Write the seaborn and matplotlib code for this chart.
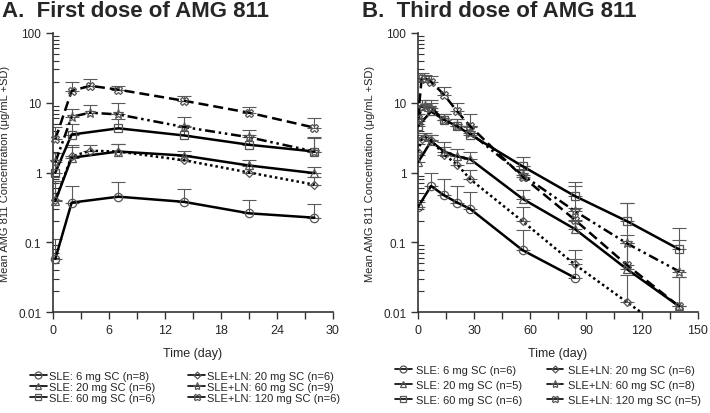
"""AMG 811 mean concentration-time profiles, first and third dose."""

import matplotlib
matplotlib.use("Agg")
import matplotlib.pyplot as plt
from matplotlib.lines import Line2D
from matplotlib.ticker import FixedLocator, LogLocator, NullFormatter
import numpy as np
import pandas as pd
import seaborn as sns

nan = np.nan

# ---- panel A: first dose ----
a_t_sle = [0.25, 2, 7, 14, 21, 28]
a_t_ln = [0.25, 2, 4, 7, 14, 21, 28]
a_sle6 = [0.058, 0.37, 0.45, 0.38, 0.26, 0.225]
a_sle6_sd = [0.055, 0.26, 0.27, 0.20, 0.14, 0.125]
a_sle20 = [0.39, 1.63, 2.0, 1.75, 1.26, 0.98]
a_sle20_sd = [0.36, 0.7, 0.6, 0.3, 0.25, 0.2]
a_sle60 = [1.0, 3.5, 4.3, 3.4, 2.5, 2.0]
a_sle60_sd = [0.5, 1.5, 1.5, 1.2, 0.9, 1.2]
a_ln20 = [0.40, 1.7, 2.05, 2.0, 1.5, 1.0, 0.67]
a_ln20_sd = [0.35, 0.8, 0.45, 0.6, 0.3, 0.25, 0.2]
a_ln60 = [1.4, 6.3, 7.2, 6.8, 4.5, 3.2, 2.0]
a_ln60_sd = [0.5, 1.9, 2.2, 3.2, 1.7, 0.9, 1.1]
a_ln120 = [3.0, 14.8, 17.5, 15.4, 10.7, 7.2, 4.4]
a_ln120_sd = [1.5, 5.2, 4.5, 2.1, 1.9, 1.6, 1.7]

# ---- panel B: third dose ----
b_t_sle = [0, 7, 14, 21, 28, 56, 84, 112, 140]
b_t_ln = [0, 2, 4, 7, 14, 21, 28, 56, 84, 112, 140]
b_sle6 = [0.32, 0.64, 0.47, 0.37, 0.30, 0.077, 0.031, nan, nan]
b_sle6_sd = [0.06, 0.36, 0.33, 0.26, 0.22, 0.075, 0.026, nan, nan]
b_sle20 = [1.4, 2.8, 2.0, 1.7, 1.55, 0.42, 0.155, 0.041, 0.012]
b_sle20_sd = [0.4, 0.6, 0.7, 0.5, 0.45, 0.15, 0.05, 0.32, 0.02]
b_sle60 = [4.6, 7.5, 5.7, 4.6, 3.5, 1.23, 0.46, 0.20, 0.079]
b_sle60_sd = [1.5, 2.5, 1.2, 1.3, 1.0, 0.45, 0.26, 0.16, 0.08]
b_ln20 = [2.0, 3.0, 3.2, 2.9, 1.8, 1.3, 0.8, 0.2, 0.048, 0.0138, 0.004]
b_ln20_sd = [0.6, 0.5, 0.5, 0.6, 0.5, 0.4, 0.3, 0.12, 0.03, 0.02, 0.0]
b_ln60 = [5.5, 8.8, 9.0, 8.5, 5.6, 4.6, 3.7, 0.92, 0.28, 0.096, 0.038]
b_ln60_sd = [1.5, 2.0, 2.0, 2.5, 1.2, 1.3, 1.0, 0.3, 0.36, 0.03, 0.07]
b_ln120 = [6.0, 23, 22, 20, 13, 7.5, 4.6, 0.87, 0.21, 0.047, 0.012]
b_ln120_sd = [2.0, 3.5, 3.0, 4.0, 4.0, 2.5, 2.2, 0.25, 0.1, 0.05, 0.02]

groups_a = ["SLE: 6 mg SC (n=8)", "SLE: 20 mg SC (n=6)", "SLE: 60 mg SC (n=6)",
            "SLE+LN: 20 mg SC (n=6)", "SLE+LN: 60 mg SC (n=9)", "SLE+LN: 120 mg SC (n=6)"]
groups_b = ["SLE: 6 mg SC (n=6)", "SLE: 20 mg SC (n=5)", "SLE: 60 mg SC (n=6)",
            "SLE+LN: 20 mg SC (n=6)", "SLE+LN: 60 mg SC (n=8)", "SLE+LN: 120 mg SC (n=5)"]

series_a = [(a_t_sle, a_sle6, a_sle6_sd), (a_t_sle, a_sle20, a_sle20_sd),
            (a_t_sle, a_sle60, a_sle60_sd), (a_t_ln, a_ln20, a_ln20_sd),
            (a_t_ln, a_ln60, a_ln60_sd), (a_t_ln, a_ln120, a_ln120_sd)]
series_b = [(b_t_sle, b_sle6, b_sle6_sd), (b_t_sle, b_sle20, b_sle20_sd),
            (b_t_sle, b_sle60, b_sle60_sd), (b_t_ln, b_ln20, b_ln20_sd),
            (b_t_ln, b_ln60, b_ln60_sd), (b_t_ln, b_ln120, b_ln120_sd)]

MARKERS = ["o", "^", "s", "D", "*", "X"]
MSIZES = [6, 6, 6, 4.5, 7, 6]
DASHES = ["", "", "", (1, 1.2), (4, 1.5, 1, 1.5, 1, 1.5), (4, 2)]
EDGE = "#555555"

sns.set_style("ticks")
plt.rcParams["font.family"] = ["Liberation Sans", "DejaVu Sans"]


def frame(groups, series):
    rows = []
    for name, (t, y, sd) in zip(groups, series):
        for ti, yi, si in zip(t, y, sd):
            if not np.isnan(yi):
                rows.append({"time": ti, "conc": yi, "sd": si, "group": name})
    return pd.DataFrame(rows)


def panel(ax, groups, series, xmax, xstep, clip):
    df = frame(groups, series)
    for name, part in df.groupby("group", sort=False):
        sd = part["sd"].fillna(0).to_numpy()
        ax.errorbar(part["time"], part["conc"], yerr=[np.zeros_like(sd), sd], fmt="none",
                    ecolor="#5a5a5a", elinewidth=0.8, capsize=5, capthick=0.8, zorder=1)
    sns.lineplot(data=df, x="time", y="conc", hue="group", style="group",
                 hue_order=groups, style_order=groups,
                 palette={g: "black" for g in groups},
                 markers=dict(zip(groups, MARKERS)), dashes=dict(zip(groups, DASHES)),
                 legend=False, ax=ax, lw=1.8, ms=6, mfc="none", mec=EDGE, mew=0.9,
                 sort=False, zorder=3)
    for line, ms in zip(ax.get_lines()[-6:], MSIZES):
        line.set_markersize(ms)
        line.set_clip_on(clip)
    ax.set_yscale("log")
    ax.set_ylim(0.01, 100)
    ax.set_xlim(0, xmax)
    ax.xaxis.set_major_locator(FixedLocator(np.arange(0, xmax + 1, xstep)))
    ax.xaxis.set_minor_locator(FixedLocator(np.arange(0, xmax + 1, xstep / 2)))
    ax.yaxis.set_major_locator(FixedLocator([0.01, 0.1, 1, 10, 100]))
    ax.yaxis.set_minor_locator(LogLocator(base=10, subs=np.arange(2, 10)))
    ax.yaxis.set_minor_formatter(NullFormatter())
    ax.set_yticklabels(["0.01", "0.1", "1", "10", "100"])
    ax.tick_params(axis="both", which="major", labelsize=9, length=5, width=1, color="#333", direction="out")
    ax.tick_params(axis="x", which="minor", length=5, width=1, color="#333", direction="out")
    ax.tick_params(axis="y", which="minor", length=4, width=0.8, color="#333", direction="in")
    ax.tick_params(axis="y", which="major", labelsize=8.5)
    for s in ("left", "bottom"):
        ax.spines[s].set_linewidth(1.2)
        ax.spines[s].set_color("#333")
    sns.despine(ax=ax)
    ax.set_xlabel("Time (day)", fontsize=9)
    ax.set_ylabel("Mean AMG 811 Concentration (μg/mL +SD)", fontsize=8)
    ax.xaxis.set_label_coords(0.5, -0.125)
    ax.yaxis.set_label_coords(-0.155, 0.5)


fig = plt.figure(figsize=(7.1, 4.14), dpi=100)
ax_a = fig.add_axes([53 / 710, 1 - 313 / 414, 280 / 710, 279 / 414])
ax_b = fig.add_axes([418 / 710, 1 - 313 / 414, 280 / 710, 279 / 414])

panel(ax_a, groups_a, series_a, 30, 6, False)
panel(ax_b, groups_b, series_b, 150, 30, True)

fig.text(2 / 710, 1 - 1 / 414, "A.  First dose of AMG 811", fontsize=16, fontweight="bold", va="top")
fig.text(362 / 710, 1 - 1 / 414, "B.  Third dose of AMG 811", fontsize=16, fontweight="bold", va="top")


def handles():
    out = []
    for m, ms in zip(MARKERS, MSIZES):
        out.append(Line2D([], [], color="black", lw=1.2, marker=m, ms=ms - 1,
                          mfc="none", mec=EDGE, mew=0.9))
    return out


fig.legend(handles(), groups_a, loc="upper left", bbox_to_anchor=(30 / 710, 1 - 372 / 414),
           ncol=2, frameon=False, fontsize=8, handlelength=1.5, handletextpad=0.2,
           columnspacing=3.0, labelspacing=0.1, borderaxespad=0, borderpad=0)
fig.legend(handles(), groups_b, loc="upper left", bbox_to_anchor=(395 / 710, 1 - 366 / 414),
           ncol=2, frameon=False, fontsize=8, handlelength=1.5, handletextpad=0.4,
           columnspacing=2.2, labelspacing=0.45, borderaxespad=0, borderpad=0)

fig.savefig("out.png", dpi=100)
